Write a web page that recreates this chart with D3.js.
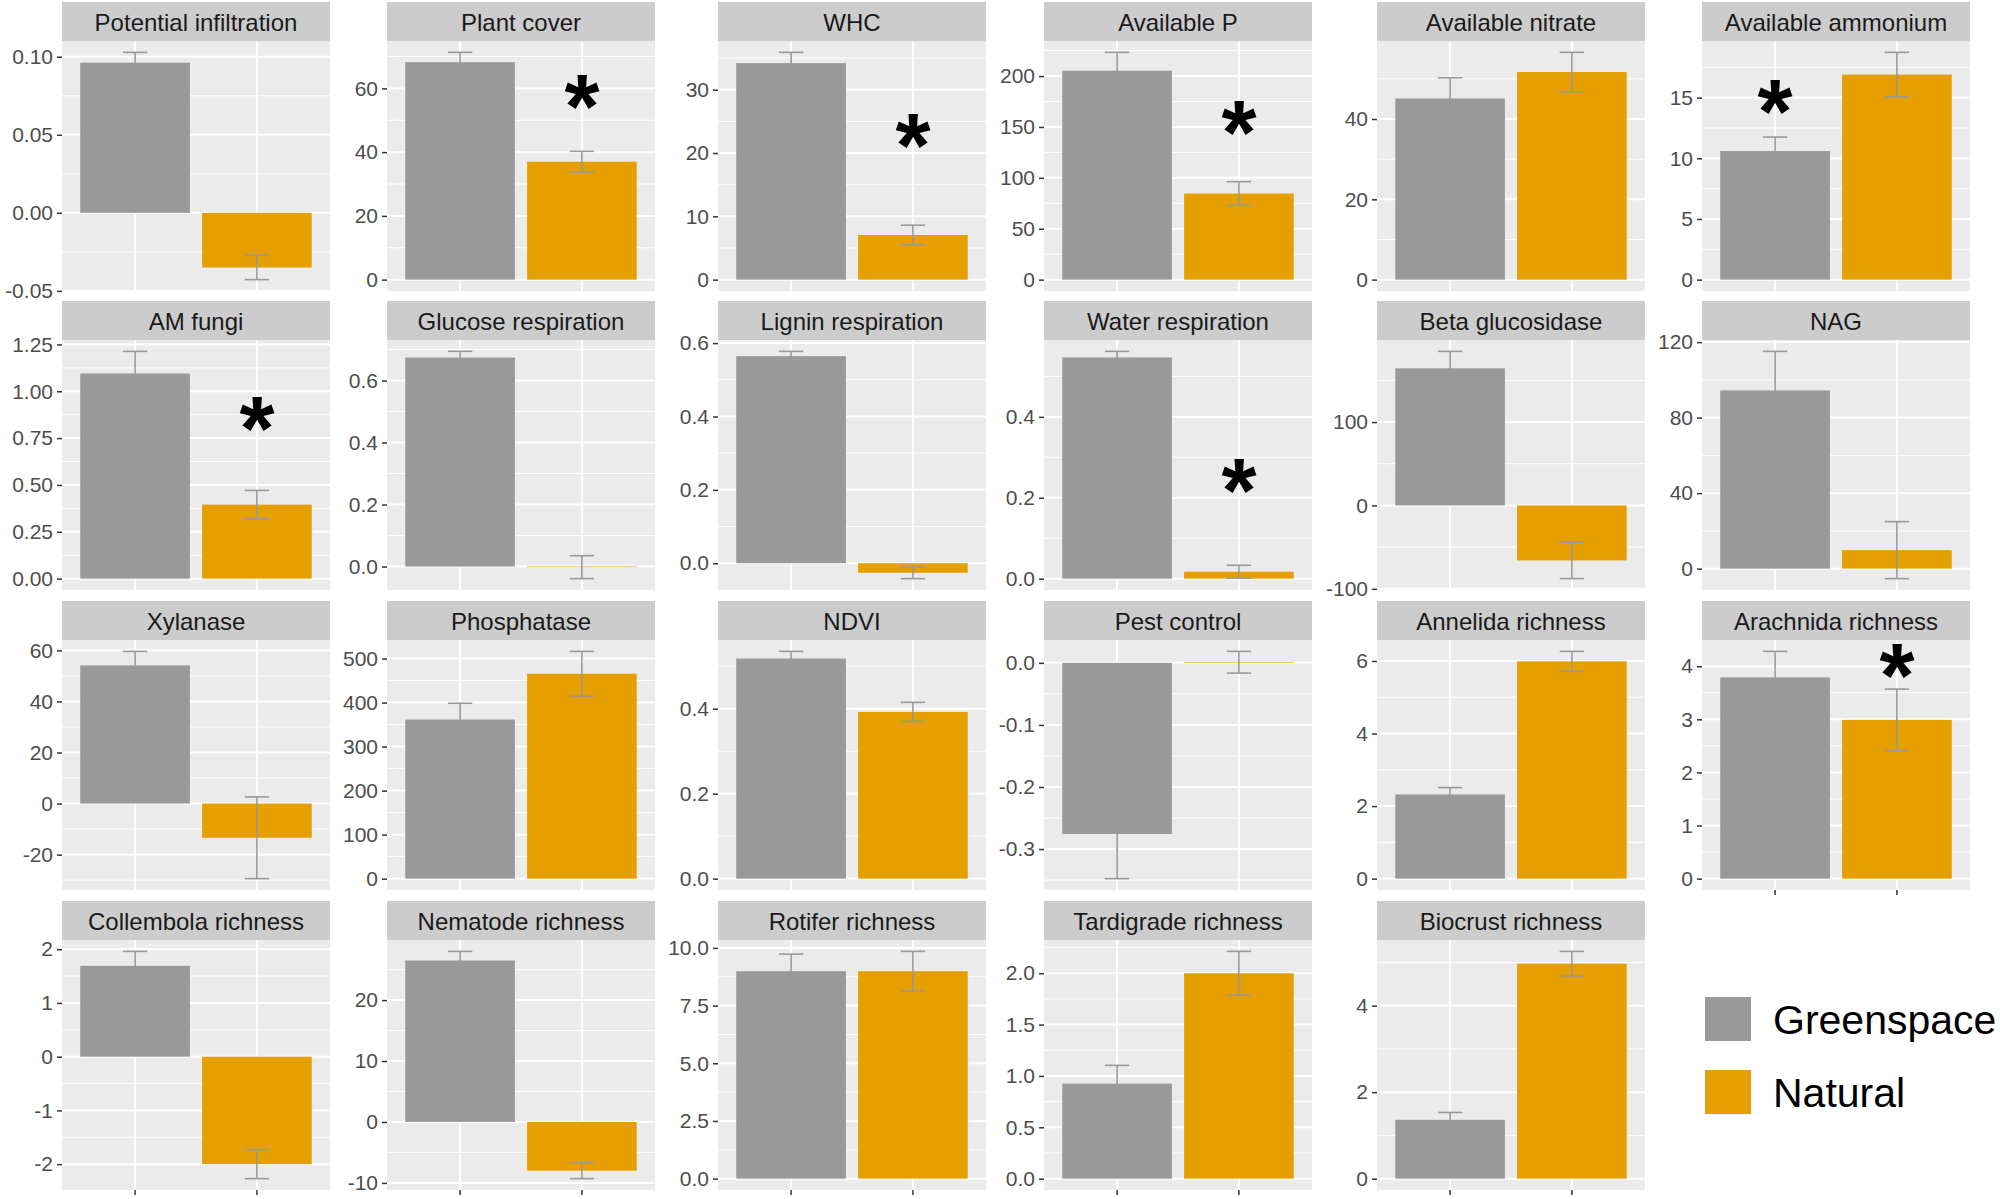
<!DOCTYPE html>
<html><head><meta charset="utf-8">
<script src="https://cdn.jsdelivr.net/npm/d3@7"></script>
<style>body{margin:0;background:#fff} svg{display:block}</style>
</head><body>
<svg id="chart" width="2000" height="1199"></svg>
<script>
// ---------- data ----------
const panels = ["Potential infiltration","Plant cover","WHC","Available P","Available nitrate","Available ammonium",
  "AM fungi","Glucose respiration","Lignin respiration","Water respiration","Beta glucosidase","NAG",
  "Xylanase","Phosphatase","NDVI","Pest control","Annelida richness","Arachnida richness",
  "Collembola richness","Nematode richness","Rotifer richness","Tardigrade richness","Biocrust richness"];
const groups = ["Greenspace","Natural"];
const greenMean = [0.0962, 68.2, 34.2, 205.3, 45.1, 10.6,
  1.095, 0.674, 0.5645, 0.547, 164.4, 94.4,
  54.1, 361.5, 0.518, -0.2757, 2.32, 3.79,
  1.69, 26.5, 8.99, 0.925, 1.36];
const greenErr = [0.0066, 3.1, 1.7, 18.0, 5.15, 1.15,
  0.118, 0.02, 0.013, 0.015, 20.4, 20.7,
  5.5, 37.0, 0.017, 0.072, 0.19, 0.49,
  0.27, 1.5, 0.74, 0.178, 0.17];
const naturalMean = [-0.035, 37.0, 7.05, 84.6, 51.7, 16.9,
  0.395, -0.002, -0.026, 0.017, -66.0, 9.8,
  -13.4, 465.6, 0.3925, 0.001, 5.99, 2.99,
  -2.0, -8.0, 8.99, 2.0, 4.97];
const naturalErr = [0.0078, 3.25, 1.55, 11.6, 4.9, 1.83,
  0.076, 0.037, 0.016, 0.016, 21.8, 15.1,
  16.0, 50.8, 0.0225, 0.0175, 0.275, 0.58,
  0.27, 1.3, 0.86, 0.213, 0.285];
const tickValues = [
  [-0.05,0,0.05,0.10],[0,20,40,60],[0,10,20,30],[0,50,100,150,200],[0,20,40],[0,5,10,15],
  [0,0.25,0.5,0.75,1,1.25],[0,0.2,0.4,0.6],[0,0.2,0.4,0.6],[0,0.2,0.4],[-100,0,100],[0,40,80,120],
  [-20,0,20,40,60],[0,100,200,300,400,500],[0,0.2,0.4],[-0.3,-0.2,-0.1,0],[0,2,4,6],[0,1,2,3,4],
  [-2,-1,0,1,2],[-10,0,10,20],[0,2.5,5,7.5,10],[0,0.5,1,1.5,2],[0,2,4]];
const tickLabels = [
  ["-0.05","0.00","0.05","0.10"],["0","20","40","60"],["0","10","20","30"],["0","50","100","150","200"],["0","20","40"],["0","5","10","15"],
  ["0.00","0.25","0.50","0.75","1.00","1.25"],["0.0","0.2","0.4","0.6"],["0.0","0.2","0.4","0.6"],["0.0","0.2","0.4"],["-100","0","100"],["0","40","80","120"],
  ["-20","0","20","40","60"],["0","100","200","300","400","500"],["0.0","0.2","0.4"],["-0.3","-0.2","-0.1","0.0"],["0","2","4","6"],["0","1","2","3","4"],
  ["-2","-1","0","1","2"],["-10","0","10","20"],["0.0","2.5","5.0","7.5","10.0"],["0.0","0.5","1.0","1.5","2.0"],["0","2","4"]];
const starPanel = ["Plant cover","WHC","Available P","Available ammonium","AM fungi","Water respiration","Arachnida richness"];
const starGroup = ["Natural","Natural","Natural","Greenspace","Natural","Natural","Natural"];
const starY = [58.2, 23.1, 156.8, 14.9, 0.867, 0.249, 4.06];

// ---------- layout ----------
const colX = [62, 387, 718, 1044, 1377, 1702];
const rowY = [2, 301, 601, 901];
const PW = 268, SH = 39, PH = 250;
const fillColor = d3.scaleOrdinal().domain(groups).range(["#999999", "#E69F00"]);
const FONT = "'Liberation Sans', Arial, Helvetica, sans-serif";
const STAR_FS = 90;

const svg = d3.select("#chart").style("font-family", FONT);
svg.append("rect").attr("width", 2000).attr("height", 1199).attr("fill", "#fff");

panels.forEach((name, i) => {
  const c = i % 6, r = Math.floor(i / 6);
  const x0 = colX[c], top = rowY[r] + SH, bottom = top + PH;
  const rows = groups.map((g, k) => ({g, v: k ? naturalMean[i] : greenMean[i], e: k ? naturalErr[i] : greenErr[i]}));
  let lo = 0, hi = 0;
  rows.forEach(d => { lo = Math.min(lo, d.v - d.e); hi = Math.max(hi, d.v + d.e); });
  const pad = (hi - lo) * 0.05;
  const y = d3.scaleLinear().domain([lo - pad, hi + pad]).range([bottom, top]);
  const x = d3.scaleBand().domain(groups).range([x0, x0 + PW]).paddingInner(0.1).paddingOuter(0.15);
  const g = svg.append("g");

  // strip
  g.append("rect").attr("x", x0).attr("y", rowY[r]).attr("width", PW).attr("height", SH).attr("fill", "#CCCCCC");
  g.append("text").attr("x", x0 + PW / 2).attr("y", rowY[r] + SH / 2 + 1)
    .attr("text-anchor", "middle").attr("dominant-baseline", "central")
    .attr("font-size", 24).attr("fill", "#1A1A1A").text(name);

  // panel background
  g.append("rect").attr("x", x0).attr("y", top).attr("width", PW).attr("height", PH).attr("fill", "#EBEBEB");

  const ticks = tickValues[i];
  const [dlo, dhi] = y.domain();
  const tol = (dhi - dlo) * 0.002;
  const step = ticks[1] - ticks[0];
  const minors = [];
  for (let v = ticks[0] - step / 2 - step * 3; v <= dhi; v += step) {
    if (v >= dlo && v <= dhi && !ticks.some(t => Math.abs(t - v) < step * 0.01)) minors.push(v);
  }
  g.selectAll(".minor").data(minors).join("line")
    .attr("x1", x0).attr("x2", x0 + PW).attr("y1", d => y(d)).attr("y2", d => y(d))
    .attr("stroke", "#fff").attr("stroke-width", 1);
  const shownTicks = ticks.filter(t => t >= dlo - tol && t <= dhi + tol);
  g.selectAll(".major").data(shownTicks).join("line")
    .attr("x1", x0).attr("x2", x0 + PW).attr("y1", d => y(d)).attr("y2", d => y(d))
    .attr("stroke", "#fff").attr("stroke-width", 2);
  g.selectAll(".vgrid").data(groups).join("line")
    .attr("x1", d => x(d) + x.bandwidth() / 2).attr("x2", d => x(d) + x.bandwidth() / 2)
    .attr("y1", top).attr("y2", bottom).attr("stroke", "#fff").attr("stroke-width", 2);

  // bars
  g.selectAll(".bar").data(rows).join("rect")
    .attr("x", d => x(d.g)).attr("width", x.bandwidth())
    .attr("y", d => y(Math.max(0, d.v))).attr("height", d => Math.abs(y(0) - y(d.v)))
    .attr("fill", d => fillColor(d.g));

  // error bars
  const cap = x.step() * 0.2 / 2;
  const eb = g.selectAll(".eb").data(rows).join("g").attr("stroke", "#999999").attr("stroke-width", 1.6).attr("fill", "none");
  eb.append("line").attr("x1", d => x(d.g) + x.bandwidth() / 2).attr("x2", d => x(d.g) + x.bandwidth() / 2)
    .attr("y1", d => y(d.v - d.e)).attr("y2", d => y(d.v + d.e));
  eb.append("line").attr("x1", d => x(d.g) + x.bandwidth() / 2 - cap).attr("x2", d => x(d.g) + x.bandwidth() / 2 + cap)
    .attr("y1", d => y(d.v + d.e)).attr("y2", d => y(d.v + d.e));
  eb.append("line").attr("x1", d => x(d.g) + x.bandwidth() / 2 - cap).attr("x2", d => x(d.g) + x.bandwidth() / 2 + cap)
    .attr("y1", d => y(d.v - d.e)).attr("y2", d => y(d.v - d.e));

  // asterisks
  starPanel.forEach((p, k) => {
    if (p !== name) return;
    g.append("text").attr("x", x(starGroup[k]) + x.bandwidth() / 2)
      .attr("y", y(starY[k]) + STAR_FS * 0.49)
      .attr("text-anchor", "middle").attr("font-weight", "bold").attr("font-size", STAR_FS)
      .attr("fill", "#000").text("*");
  });

  // y axis
  const labels = tickLabels[i];
  const ax = g.append("g").attr("transform", `translate(${x0},0)`)
    .call(d3.axisLeft(y).tickValues(shownTicks).tickSize(5).tickPadding(4)
      .tickFormat(d => labels[ticks.indexOf(d)]));
  ax.select(".domain").remove();
  ax.selectAll(".tick line").attr("stroke", "#333333").attr("stroke-width", 1.5);
  ax.selectAll(".tick text").attr("fill", "#4D4D4D").attr("font-size", 21).attr("font-family", FONT);

  // x axis ticks (no labels) where no panel below
  if (i + 6 >= panels.length) {
    const bx = g.append("g").attr("transform", `translate(0,${bottom})`)
      .call(d3.axisBottom(x).tickSize(5).tickFormat(""));
    bx.select(".domain").remove();
    bx.selectAll(".tick line").attr("stroke", "#333333").attr("stroke-width", 1.5);
  }
});

// legend
const legend = svg.append("g");
const legendY = d3.scalePoint().domain(groups).range([1019, 1092]);
groups.forEach(gname => {
  legend.append("rect").attr("x", 1705).attr("y", legendY(gname) - 22).attr("width", 46).attr("height", 44)
    .attr("fill", fillColor(gname));
  legend.append("text").attr("x", 1773).attr("y", legendY(gname) + 1).attr("dominant-baseline", "central")
    .attr("font-size", 41).attr("fill", "#000").text(gname);
});
</script>
</body></html>
